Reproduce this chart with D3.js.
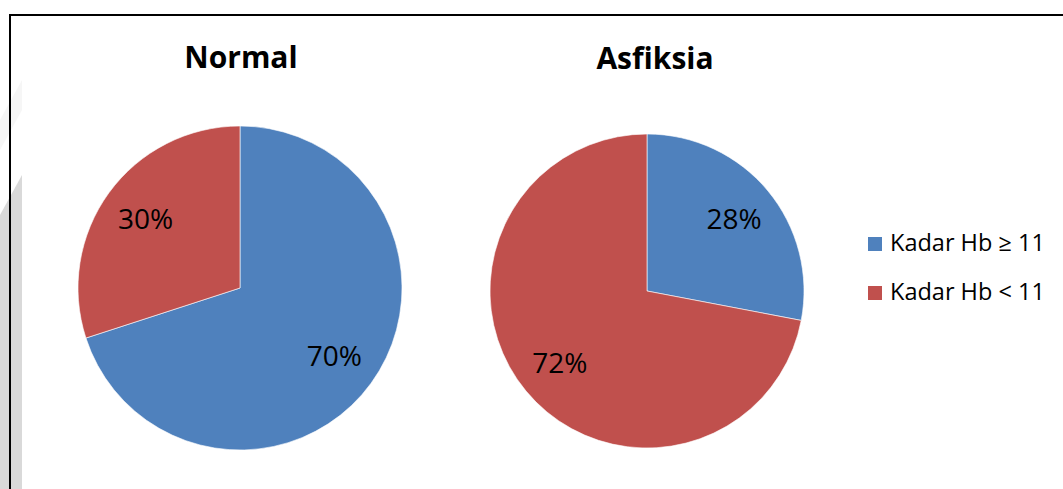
<!DOCTYPE html>
<html>
<head>
<meta charset="utf-8">
<script src="https://cdn.jsdelivr.net/npm/d3@7"></script>
<style>
  body { margin: 0; background: #fff; }
  svg text { font-family: "Open Sans", "DejaVu Sans", sans-serif; }
</style>
</head>
<body>
<div id="canvas"></div>
<script>
// data
var categories = ["Kadar Hb \u2265 11", "Kadar Hb < 11"];
var normalValues = [70, 30];
var asfiksiaValues = [28, 72];
var chartTitles = ["Normal", "Asfiksia"];
var colors = ["#4F81BD", "#C0504D"];

var winWidth = 1063, winHeight = 489;

var svg = d3.select("#canvas").append("svg")
  .attr("width", winWidth)
  .attr("height", winHeight);

// faint watermark strip on the left edge
svg.append("path")
  .attr("d", "M0,215 L22,175 L22,489 L0,489 Z")
  .attr("fill", "#d9d9d9");
svg.append("path")
  .attr("d", "M0,120 L22,80 L22,110 L0,150 Z")
  .attr("fill", "#f6f6f6");

// chart frame
svg.append("path")
  .attr("d", "M10," + winHeight + " V15 H" + winWidth)
  .attr("fill", "none")
  .attr("stroke", "#000")
  .attr("stroke-width", 2);

var color = d3.scaleOrdinal()
  .domain(categories)
  .range(colors);

var pie = d3.pie()
  .sort(null)
  .value(function(d) { return d.value; });

var pies = [
  { title: chartTitles[0], values: normalValues, cx: 240, cy: 288, r: 162, ty: 68, tx: 241 },
  { title: chartTitles[1], values: asfiksiaValues, cx: 647, cy: 291, r: 157, ty: 69, tx: 655 }
];

pies.forEach(function(p) {
  var data = categories.map(function(c, i) { return { key: c, value: p.values[i] }; });
  var arc = d3.arc().innerRadius(0).outerRadius(p.r);
  var labelArc = d3.arc().innerRadius(p.r * 0.72).outerRadius(p.r * 0.72);
  var total = d3.sum(p.values);

  var g = svg.append("g")
    .attr("transform", "translate(" + p.cx + "," + p.cy + ")");

  g.selectAll("path")
    .data(pie(data))
    .enter().append("path")
    .attr("d", arc)
    .attr("fill", function(d) { return color(d.data.key); })
    .attr("stroke", "#fff")
    .attr("stroke-width", 0.6);

  g.selectAll("text")
    .data(pie(data))
    .enter().append("text")
    .attr("transform", function(d) { return "translate(" + labelArc.centroid(d) + ")"; })
    .attr("text-anchor", "middle")
    .attr("dy", "0.35em")
    .attr("font-size", 28)
    .attr("fill", "#000")
    .text(function(d) { return Math.round(d.data.value / total * 100) + "%"; });

  svg.append("text")
    .attr("x", p.tx)
    .attr("y", p.ty)
    .attr("text-anchor", "middle")
    .attr("font-size", 30)
    .attr("font-weight", "bold")
    .attr("fill", "#000")
    .text(p.title);
});

// legend
var legend = svg.append("g")
  .attr("transform", "translate(868,237)");

var item = legend.selectAll("g")
  .data(categories)
  .enter().append("g")
  .attr("transform", function(d, i) { return "translate(0," + i * 49 + ")"; });

item.append("rect")
  .attr("width", 14)
  .attr("height", 14)
  .attr("fill", function(d) { return color(d); });

item.append("text")
  .attr("x", 22)
  .attr("y", 14)
  .attr("font-size", 23.5)
  .attr("fill", "#000")
  .text(function(d) { return d; });
</script>
</body>
</html>
